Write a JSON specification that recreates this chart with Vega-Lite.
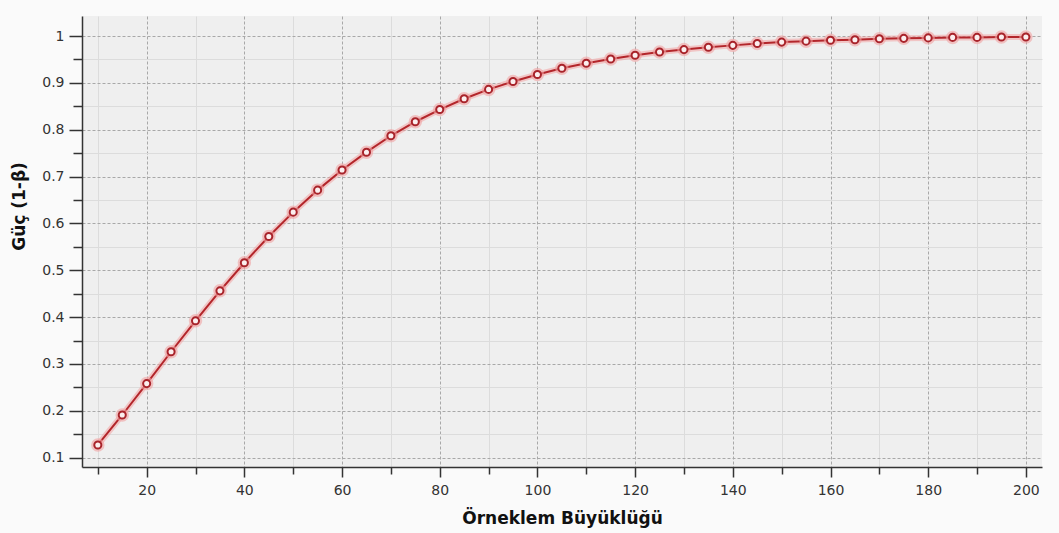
{
  "$schema": "https://vega.github.io/schema/vega-lite/v6.json",
  "width": 960,
  "height": 451,
  "autosize": {"type": "none"},
  "padding": {"left": 82, "top": 16, "right": 17, "bottom": 66},
  "background": "#fafafa",
  "config": {
    "view": {"fill": "#efefef", "stroke": null},
    "font": "DejaVu Sans"
  },
  "data": {
    "values": [
      {"n": 10, "power": 0.127},
      {"n": 15, "power": 0.191},
      {"n": 20, "power": 0.258},
      {"n": 25, "power": 0.326},
      {"n": 30, "power": 0.392},
      {"n": 35, "power": 0.456},
      {"n": 40, "power": 0.516},
      {"n": 45, "power": 0.572},
      {"n": 50, "power": 0.624},
      {"n": 55, "power": 0.671},
      {"n": 60, "power": 0.714},
      {"n": 65, "power": 0.752},
      {"n": 70, "power": 0.787},
      {"n": 75, "power": 0.817},
      {"n": 80, "power": 0.843},
      {"n": 85, "power": 0.866},
      {"n": 90, "power": 0.886},
      {"n": 95, "power": 0.903},
      {"n": 100, "power": 0.918},
      {"n": 105, "power": 0.931},
      {"n": 110, "power": 0.942},
      {"n": 115, "power": 0.951},
      {"n": 120, "power": 0.959},
      {"n": 125, "power": 0.966},
      {"n": 130, "power": 0.971},
      {"n": 135, "power": 0.976},
      {"n": 140, "power": 0.980},
      {"n": 145, "power": 0.984},
      {"n": 150, "power": 0.987},
      {"n": 155, "power": 0.989},
      {"n": 160, "power": 0.991},
      {"n": 165, "power": 0.992},
      {"n": 170, "power": 0.994},
      {"n": 175, "power": 0.995},
      {"n": 180, "power": 0.996},
      {"n": 185, "power": 0.997},
      {"n": 190, "power": 0.997},
      {"n": 195, "power": 0.998},
      {"n": 200, "power": 0.998}
    ]
  },
  "resolve": {"axis": {"x": "independent", "y": "independent"}},
  "layer": [
    {
      "mark": {"type": "line", "stroke": "#f2a3a3", "strokeWidth": 6, "opacity": 0.55},
      "encoding": {
        "x": {
          "field": "n", "type": "quantitative",
          "scale": {"domain": [6.76, 203.3], "nice": false, "zero": false},
          "axis": {
            "orient": "bottom", "title": null, "labels": false, "domain": false,
            "values": [10, 30, 50, 70, 90, 110, 130, 150, 170, 190],
            "tickSize": 7, "tickWidth": 1.5, "tickColor": "#333333",
            "grid": true, "gridColor": "#dcdcdc", "gridWidth": 1
          }
        },
        "y": {
          "field": "power", "type": "quantitative",
          "scale": {"domain": [0.080, 1.0427], "nice": false, "zero": false},
          "axis": {
            "orient": "left", "title": null, "labels": false, "domain": false,
            "values": [0.15, 0.25, 0.35, 0.45, 0.55, 0.65, 0.75, 0.85, 0.95],
            "tickSize": 9, "tickWidth": 1.5, "tickColor": "#333333",
            "grid": true, "gridColor": "#dcdcdc", "gridWidth": 1
          }
        }
      }
    },
    {
      "mark": {"type": "line", "stroke": "#b3262b", "strokeWidth": 2},
      "encoding": {
        "x": {
          "field": "n", "type": "quantitative",
          "axis": {
            "orient": "bottom",
            "title": "Örneklem Büyüklüğü",
            "titleFont": "DejaVu Sans", "titleFontSize": 17, "titleFontWeight": "bold", "titleColor": "#111111",
            "titleBaseline": "alphabetic", "titleY": 56,
            "values": [20, 40, 60, 80, 100, 120, 140, 160, 180, 200],
            "format": "d",
            "labelFont": "DejaVu Sans", "labelFontSize": 14, "labelColor": "#333333", "labelPadding": 6,
            "domain": true, "domainColor": "#333333", "domainWidth": 1.5,
            "tickSize": 10, "tickWidth": 1.5, "tickColor": "#333333",
            "grid": true, "gridColor": "#a8a8a8", "gridDash": [3, 2], "gridWidth": 1
          }
        },
        "y": {
          "field": "power", "type": "quantitative",
          "axis": {
            "orient": "left",
            "title": "Güç (1-β)",
            "titleFont": "DejaVu Sans", "titleFontSize": 17, "titleFontWeight": "bold", "titleColor": "#111111",
            "titleX": -54, "titleY": 190, "titleAngle": 270, "titleBaseline": "bottom",
            "values": [0.1, 0.2, 0.3, 0.4, 0.5, 0.6, 0.7, 0.8, 0.9, 1.0],
            "format": ".1~f",
            "labelFont": "DejaVu Sans", "labelFontSize": 14, "labelColor": "#333333", "labelPadding": 5,
            "domain": true, "domainColor": "#333333", "domainWidth": 1.5,
            "tickSize": 13, "tickWidth": 1.5, "tickColor": "#333333",
            "grid": true, "gridColor": "#a8a8a8", "gridDash": [3, 2], "gridWidth": 1
          }
        }
      }
    },
    {
      "mark": {"type": "point", "filled": false, "stroke": "#f2a3a3", "strokeWidth": 3, "opacity": 0.6, "size": 110},
      "encoding": {
        "x": {"field": "n", "type": "quantitative", "axis": null},
        "y": {"field": "power", "type": "quantitative", "axis": null}
      }
    },
    {
      "mark": {"type": "point", "filled": true, "fill": "#fbeeee", "stroke": "#a8232a", "strokeWidth": 2, "size": 50, "opacity": 1},
      "encoding": {
        "x": {"field": "n", "type": "quantitative", "axis": null},
        "y": {"field": "power", "type": "quantitative", "axis": null}
      }
    }
  ]
}
